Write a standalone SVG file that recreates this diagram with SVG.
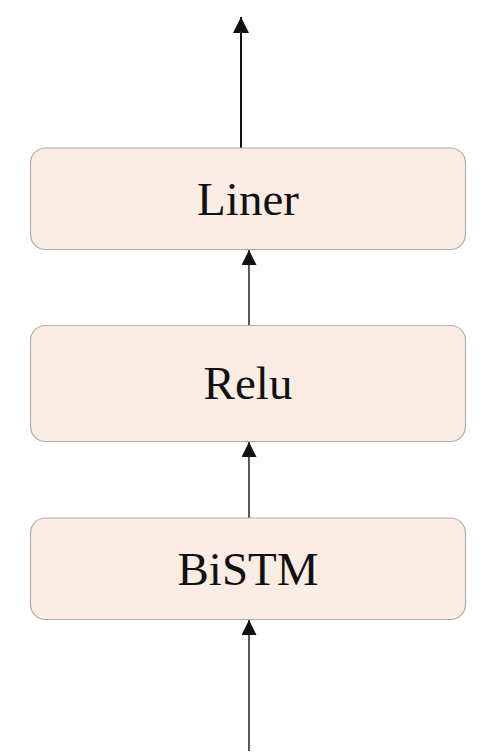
<svg xmlns="http://www.w3.org/2000/svg" width="488" height="752" viewBox="0 0 488 752">
<style>
.box{fill:#fbede4;stroke:#b3aba6;stroke-width:1.2}
.lbl{font-family:"Liberation Serif","Times New Roman",serif;font-size:47px;fill:#111;text-anchor:middle}
.conn{stroke:#111;stroke-width:1.4;fill:none}
</style>
<defs>
<marker id="ah" viewBox="0 0 10 10" refX="10" refY="5" markerWidth="15" markerHeight="15" markerUnits="userSpaceOnUse" orient="auto">
<path d="M0,0 L10,5 L0,10 z" fill="#111"/>
</marker>
<marker id="ah2" viewBox="0 0 10 10" refX="10" refY="5" markerWidth="16" markerHeight="16" markerUnits="userSpaceOnUse" orient="auto">
<path d="M0,0 L10,5 L0,10 z" fill="#111"/>
</marker>
</defs>
<rect width="488" height="752" fill="#fff"/>
<g id="connectors">
<line class="conn" x1="241" y1="148" x2="241" y2="17" marker-end="url(#ah2)" style="stroke-width:2"/>
<line class="conn" x1="249" y1="325" x2="249" y2="250" marker-end="url(#ah)"/>
<line class="conn" x1="249" y1="518" x2="249" y2="442" marker-end="url(#ah)"/>
<line class="conn" x1="249" y1="751" x2="249" y2="620" marker-end="url(#ah)"/>
</g>
<g id="liner">
<rect class="box" x="30.5" y="148" width="435" height="101.5" rx="15"/>
<text class="lbl" x="248" y="215">Liner</text>
</g>
<g id="relu">
<rect class="box" x="30.5" y="325.5" width="435" height="116" rx="15"/>
<text class="lbl" x="248" y="399">Relu</text>
</g>
<g id="bistm">
<rect class="box" x="30.5" y="518" width="435" height="101.5" rx="15"/>
<text class="lbl" x="248" y="585">BiSTM</text>
</g>
</svg>
